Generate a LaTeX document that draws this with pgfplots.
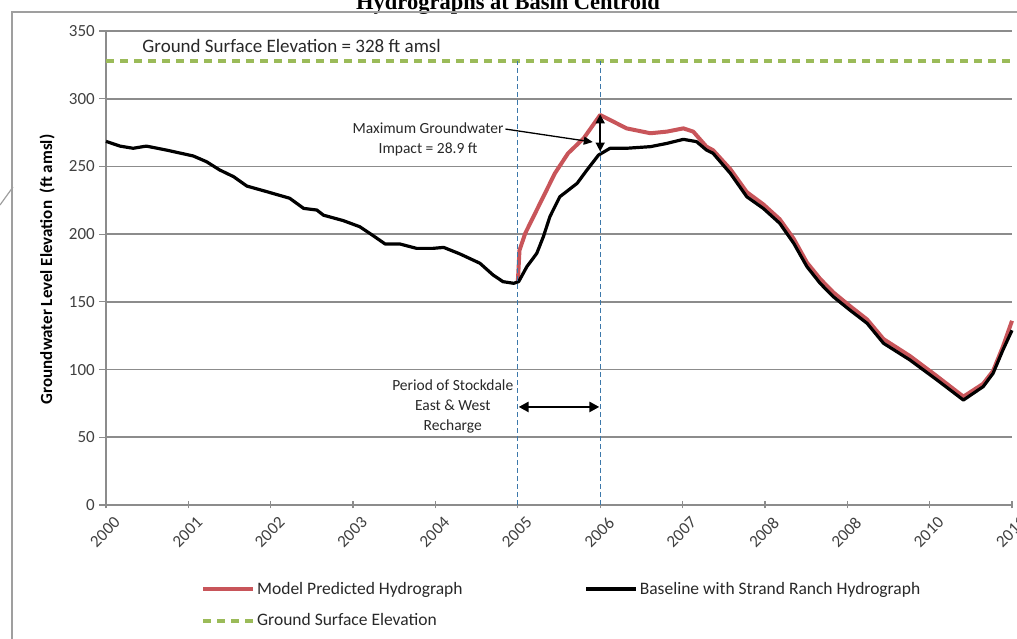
\documentclass[border=0pt]{standalone}
\usepackage{fontspec}
\setmainfont{Carlito}
\newfontfamily\titlefont{Liberation Serif}
\usepackage{pgfplots}
\pgfplotsset{compat=1.18}
\usetikzlibrary{arrows.meta}
\definecolor{gridgray}{RGB}{140,140,140}
\definecolor{modelred}{RGB}{200,85,90}
\definecolor{groundgreen}{RGB}{155,187,89}
\definecolor{vblue}{RGB}{60,120,170}
\definecolor{txt}{RGB}{40,40,40}

\begin{document}
\begin{tikzpicture}
\useasboundingbox (0pt,0pt) rectangle (1017pt,639pt);
\node[font=\titlefont\bfseries\fontsize{22.5}{26}\selectfont, anchor=base, inner sep=0pt] at (508pt,629pt) {Hydrographs at Basin Centroid};
\draw[gray!75, line width=2pt] (12pt,-10pt) -- (12pt,627pt) -- (1030pt,627pt);
\draw[gray!75, line width=1.2pt] (0pt,434pt) -- (13pt,452pt);
\begin{axis}[
  at={(106pt,134pt)}, anchor=south west,
  scale only axis, width=906pt, height=474pt,
  xmin=2000, xmax=2011, ymin=0, ymax=350,
  axis x line*=bottom, axis y line*=left,
  axis line style={gridgray, line width=1.5pt},
  xtick={2000,2001,2002,2003,2004,2005,2006,2007,2008,2009,2010,2011},
  xticklabels={2000,2001,2002,2003,2004,2005,2006,2007,2008,2008,2010,2011},
  ytick={0,50,100,150,200,250,300,350},
  ymajorgrids, grid style={gridgray, line width=1.8pt},
  tick style={gridgray, line width=1.2pt},
  xtick align=center, ytick align=outside,
  major tick length=7pt,
  /pgf/number format/assume math mode=true,
  tick label style={font=\fontsize{17}{20}\selectfont, text=black!75, inner sep=0pt},
  yticklabel style={anchor=east, xshift=-4pt},
  xticklabel style={rotate=45, anchor=east, xshift=0pt, yshift=-16pt},
  ylabel={Groundwater Level Elevation\ \ (ft amsl)},
  every axis y label/.style={at={(axis description cs:-0.0651,0.497)}, rotate=90, anchor=center, font=\bfseries\fontsize{17}{20}\selectfont},
  clip=false,
  legend columns=2,
  legend cell align=left,
  legend style={at={(axis description cs:0.1015,-0.154)}, anchor=north west, draw=none, fill=none,
    font=\fontsize{17.5}{20}\selectfont, text=txt, row sep=14pt,
    /tikz/every even column/.append style={column sep=120pt}},
  legend image code/.code={\draw[#1] (0pt,0pt) -- (50pt,0pt);},
]
% Model predicted (red)
\addplot[modelred, line width=4pt, line join=round] coordinates {
(2005.00,165) (2005.01,176) (2005.02,188) (2005.09,200.6) (2005.25,220.3) (2005.45,244.9)
(2005.61,259.7) (2005.80,270.8) (2006.00,288) (2006.12,284.3) (2006.32,278.1) (2006.61,274.5)
(2006.81,275.7) (2007.01,278.1) (2007.13,275.7) (2007.29,264.6) (2007.37,262) (2007.58,248)
(2007.78,231) (2007.98,222) (2008.18,211) (2008.35,196.5) (2008.51,179) (2008.67,167)
(2008.83,157) (2009.03,147) (2009.24,137) (2009.44,122.5) (2009.76,110) (2010.09,95)
(2010.41,80) (2010.65,89.5) (2010.77,99) (2010.89,117) (2011.00,136)
};
\addlegendentry{Model Predicted Hydrograph}
% Baseline (black)
\addplot[black, line width=3.2pt, line join=round] coordinates {
(2000.00,268.5) (2000.17,265) (2000.33,263.4) (2000.49,265) (2000.74,262) (2001.06,257.7)
(2001.22,253.5) (2001.38,247.4) (2001.55,242.4) (2001.71,235.5) (2001.95,231.4) (2002.23,226.5)
(2002.40,219) (2002.56,217.8) (2002.64,214) (2002.88,210) (2003.08,205.5) (2003.25,198.6)
(2003.39,192.7) (2003.57,192.7) (2003.77,189.5) (2003.97,189.5) (2004.10,190.2) (2004.30,185.3)
(2004.54,178.5) (2004.70,169.8) (2004.82,164.9) (2004.95,163.7) (2005.01,164.9) (2005.11,176)
(2005.23,185.8) (2005.31,198.1) (2005.39,213) (2005.51,227.6) (2005.72,237.5) (2005.84,247.4)
(2005.98,258.4) (2006.12,263.4) (2006.32,263.4) (2006.61,264.6) (2006.81,267) (2007.01,270)
(2007.17,268.3) (2007.29,262.1) (2007.37,259.7) (2007.58,244.9) (2007.78,227.6) (2007.98,219)
(2008.18,208) (2008.35,193.2) (2008.51,176) (2008.67,163.7) (2008.83,153.8) (2009.03,144)
(2009.24,134.2) (2009.44,119.4) (2009.76,107.1) (2010.09,92.3) (2010.41,77.5) (2010.65,87.4)
(2010.77,97.2) (2010.89,114.5) (2011.00,129)
};
\addlegendentry{Baseline with Strand Ranch Hydrograph}
% Ground surface
\addplot[groundgreen, line width=4pt, dash pattern=on 8pt off 6pt] coordinates {(2000,328) (2011,328)};
\addlegendentry{Ground Surface Elevation}
% recharge period lines
\addplot[vblue, line width=1.2pt, dash pattern=on 5pt off 3pt, forget plot] coordinates {(2005,0) (2005,328)};
\addplot[vblue, line width=1.2pt, dash pattern=on 5pt off 3pt, forget plot] coordinates {(2006,0) (2006,328)};

\node[anchor=base west, font=\fontsize{19}{22}\selectfont, text=txt, inner sep=0pt] at (axis cs:2000.44,334) {Ground Surface Elevation = 328 ft amsl};
\node[align=center, font=\fontsize{15.5}{20}\selectfont, text=txt, inner sep=0pt] at (axis cs:2003.91,270.2) {Maximum Groundwater\\Impact = 28.9 ft};
\draw[black, line width=1.3pt, -{Triangle[length=9pt,width=8pt]}] (axis cs:2004.85,277.6) -- (axis cs:2005.91,268.0);
\draw[black, line width=1.5pt, {Triangle[length=9pt,width=9pt]}-{Triangle[length=9pt,width=9pt]}] (axis cs:2006,288.5) -- (axis cs:2006,261);
\node[align=center, font=\fontsize{15.5}{20}\selectfont, text=txt, inner sep=0pt] at (axis cs:2004.21,72.4) {Period of Stockdale\\East \& West\\Recharge};
\draw[black, line width=2.5pt, {Triangle[length=10pt,width=10pt]}-{Triangle[length=10pt,width=10pt]}] (axis cs:2005.01,72.4) -- (axis cs:2005.99,72.4);
\end{axis}
\end{tikzpicture}
\end{document}
